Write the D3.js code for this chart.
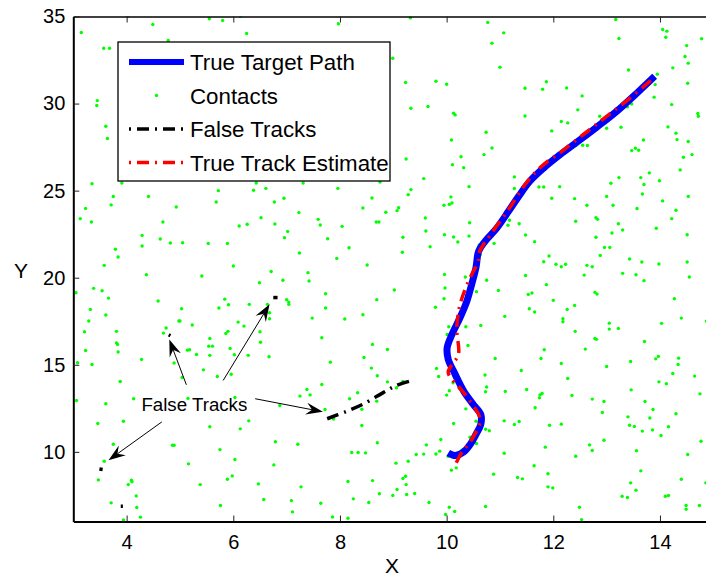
<!DOCTYPE html>
<html>
<head>
<meta charset="utf-8">
<script src="https://cdn.jsdelivr.net/npm/d3@7"></script>
<style>
body { margin: 0; background: #fff; }
text { font-family: Arial, "Liberation Sans", Helvetica, sans-serif; fill: #000; }
</style>
</head>
<body>
<div id="graph"></div>
<script>

// axis limits and ticks
var xDomain = [3, 15];
var yDomain = [6, 35];
var xTicks = [4, 6, 8, 10, 12, 14];
var yTicks = [10, 15, 20, 25, 30, 35];

// legend labels
var legendLabels = ["True Target Path", "Contacts", "False Tracks", "True Track Estimate"];

// contacts (x, y)
var contacts = [
    [4.02,35.02],[4.49,34.54],[5.55,34.87],[5.80,34.77],[6.14,35.02],[7.97,34.58],[3.15,34.08],[6.25,34.02],[3.57,33.18],[3.68,33.18],
    [4.78,33.62],[3.45,30.17],[3.44,29.89],[3.61,28.70],[3.64,27.99],[3.35,25.40],[3.91,25.44],[3.75,24.66],[3.71,24.18],[3.23,23.98],
    [3.13,23.39],[3.34,23.20],[4.41,24.67],[4.93,24.06],[4.68,23.20],[4.29,22.43],[4.29,21.82],[4.63,22.22],[4.82,21.99],[5.05,22.01],
    [3.79,21.63],[3.84,21.19],[3.58,20.71],[5.53,21.97],[5.89,21.97],[5.72,25.00],[5.68,24.35],[6.43,25.44],[6.38,25.02],[6.61,25.13],
    [6.77,24.35],[6.95,24.56],[6.52,23.45],[6.26,23.07],[6.11,22.97],[6.78,23.08],[7.23,23.74],[7.02,22.66],[6.96,22.30],[7.59,23.35],
    [7.63,23.03],[7.31,25.44],[7.96,25.13],[8.04,22.95],[7.77,22.24],[7.24,21.42],[8.17,21.72],[7.94,21.11],[6.00,20.67],[8.51,20.73],
    [8.43,24.00],[8.60,24.58],[8.86,23.76],[8.68,23.20],[8.73,23.20],[8.75,25.50],
    [9.32,34.92],[10.77,34.66],[11.07,34.06],[10.85,33.47],[13.17,34.83],[13.23,33.74],[14.05,34.25],[14.13,34.16],[14.11,33.81],[14.78,33.72],
    [14.50,33.33],[14.47,32.70],[14.53,32.32],[14.24,32.05],[13.41,31.93],[8.99,32.60],[11.00,32.09],[9.23,31.21],[9.80,31.28],[10.00,31.11],
    [11.47,30.88],[11.80,30.82],[11.87,31.25],[12.25,30.90],[12.54,30.44],[12.46,29.64],[9.33,29.73],[9.65,29.83],[10.13,29.44],[10.16,29.35],
    [11.47,29.29],[12.15,28.97],[12.27,28.89],[11.97,28.43],[12.87,29.27],[13.00,28.58],[13.27,28.64],[13.39,29.81],[13.47,29.98],[13.95,31.69],
    [13.91,31.09],[13.89,30.37],[14.22,29.94],[14.52,31.17],[14.71,29.43],[14.72,29.27],[14.15,28.66],[14.30,28.30],[14.32,27.93],[14.53,27.82],
    [14.60,27.07],[14.44,26.92],[14.38,26.19],[13.69,27.91],[13.47,27.30],[13.54,27.43],[13.60,27.32],[13.80,26.02],[13.64,25.75],[13.99,25.57],
    [13.70,25.35],[13.67,24.81],[14.53,24.67],[14.05,24.41],[14.30,23.87],[14.22,23.39],[13.93,22.84],[14.51,22.47],[14.51,20.90],[13.98,20.79],
    [13.66,20.90],[13.43,21.07],[13.23,25.75],[13.08,25.42],[13.00,24.67],[13.12,24.16],[13.57,23.97],[12.80,23.45],[12.83,23.35],[13.22,23.10],
    [13.30,22.74],[13.10,22.57],[12.80,22.32],[12.96,21.74],[13.06,21.74],[12.88,21.28],[12.63,24.16],[12.40,24.54],[12.42,23.24],[12.63,20.71],
    [12.73,20.63],[12.64,27.59],[12.55,27.61],[12.42,27.59],[12.24,27.24],[12.12,25.23],[11.97,24.56],[11.82,25.21],[11.73,25.21],[11.27,25.79],
    [11.27,25.12],[11.18,23.30],[11.15,23.01],[11.36,23.10],[11.12,23.62],[11.48,22.45],[11.65,22.07],[10.89,21.97],[10.63,21.32],[11.92,21.25],
    [11.82,20.92],[12.05,20.77],[12.15,20.63],[12.23,20.77],[10.74,28.35],[10.85,27.45],[10.70,27.07],[10.09,27.91],[10.27,26.95],[10.32,26.32],
    [10.11,26.49],[9.57,25.69],[9.24,26.82],[9.33,25.06],[9.28,24.77],[10.42,25.23],[10.08,24.64],[10.10,24.29],[10.05,24.21],[9.95,24.16],
    [9.10,24.02],[9.07,23.85],[9.60,23.43],[9.61,22.68],[9.96,22.47],[10.13,22.34],[10.21,22.05],[10.43,23.16],[10.42,22.39],[9.69,21.78],
    [9.18,22.32],[9.17,21.46],[11.79,26.27],[10.61,21.88],
    [4.37,20.17],[5.41,20.10],[6.49,19.71],[6.71,20.36],[6.93,19.85],[7.40,20.29],[7.42,19.81],[3.05,19.14],[3.38,19.39],[3.54,19.25],
    [3.66,18.83],[3.32,18.18],[3.29,17.51],[3.61,17.86],[3.21,16.90],[3.81,16.92],[3.81,16.26],[3.83,16.17],[3.23,15.82],[3.84,15.73],
    [3.08,15.12],[3.35,15.02],[3.88,14.04],[4.59,18.66],[5.03,18.22],[4.98,17.51],[5.00,17.51],[5.23,17.28],[4.74,17.11],[4.69,16.82],
    [4.28,15.31],[4.89,15.10],[5.14,15.84],[5.18,15.86],[5.31,15.59],[5.04,14.27],[5.44,14.71],[5.56,16.51],[5.54,16.07],[5.61,16.07],
    [5.56,15.54],[5.73,18.26],[5.84,18.77],[5.91,18.45],[6.09,17.45],[6.20,17.22],[5.90,16.92],[5.86,16.80],[5.94,15.94],[6.02,15.58],
    [6.28,15.54],[6.30,18.47],[6.64,18.47],[6.68,17.99],[6.68,17.64],[6.50,16.90],[6.51,16.29],[6.67,15.46],[5.70,14.33],[5.96,14.46],
    [7.00,18.74],[7.04,18.60],[7.04,18.47],[7.48,17.68],[7.73,19.08],[7.73,18.26],[7.66,16.55],[7.82,15.15],[7.66,13.87],[7.38,13.58],
    [7.44,13.27],[7.25,13.20],[8.09,17.63],[8.43,17.87],[8.69,18.74],[8.61,16.17],[8.89,15.88],[8.45,15.42],[8.59,14.81],[8.70,14.37],
    [8.89,14.02],[8.18,13.05],[8.33,13.39],[8.41,12.45],[8.69,12.91],[7.88,11.88],[7.72,12.43],[8.41,11.51],[8.70,10.52],[8.22,9.96],
    [8.34,9.96],[8.48,9.94],[8.61,8.35],[8.15,8.30],[8.25,7.30],[8.54,7.09],[8.74,7.59],[7.86,6.26],[8.15,6.19],[7.64,7.05],
    [7.11,6.55],[7.09,7.20],[6.57,7.26],[7.27,7.99],[6.76,9.25],[6.79,10.58],[7.21,10.44],[6.87,12.66],[6.29,11.78],[6.13,11.32],
    [5.56,11.44],[6.03,13.12],[5.75,10.13],[6.03,9.56],[5.98,8.62],[5.89,8.43],[6.47,8.16],[5.76,6.92],[5.38,8.12],[5.16,9.31],
    [4.86,10.38],[4.89,10.38],[3.94,11.76],[3.46,11.63],[3.61,12.76],[3.06,12.95],[4.13,13.05],[3.75,10.44],[3.58,9.46],[3.47,8.39],
    [4.03,8.12],[4.09,8.37],[4.10,8.28],[4.18,7.47],[4.19,6.80],[3.71,7.07],[4.26,6.25],[3.94,6.09],[5.15,13.07],
    [9.96,20.19],[10.35,20.04],[10.75,19.85],[11.48,20.13],[12.58,20.15],[13.30,20.25],[13.55,20.17],[13.70,19.83],[14.55,20.04],[9.02,19.29],
    [9.97,19.41],[9.95,18.79],[9.79,18.30],[10.56,19.20],[10.97,19.27],[11.87,19.60],[11.53,19.04],[11.60,19.12],[12.00,18.70],[12.78,19.16],
    [12.82,19.06],[12.40,18.41],[12.26,18.18],[11.55,18.22],[11.65,18.03],[12.18,17.64],[12.18,17.47],[11.09,17.78],[10.64,17.26],[10.36,17.18],
    [10.04,17.18],[10.01,16.74],[10.40,16.11],[12.41,16.92],[13.05,17.39],[13.05,17.05],[13.22,17.09],[14.27,18.79],[14.40,17.68],[14.03,17.38],
    [14.87,17.51],[12.78,16.51],[12.81,16.46],[13.71,16.34],[12.60,15.90],[11.83,15.86],[11.77,15.36],[12.15,15.08],[10.91,15.36],[13.00,14.90],
    [13.45,15.19],[13.92,15.34],[13.97,15.48],[14.35,15.38],[14.34,15.02],[14.24,14.50],[14.65,14.35],[13.98,14.02],[14.12,13.91],[14.75,13.33],
    [12.27,14.21],[11.40,14.67],[11.50,13.58],[11.75,13.27],[11.79,13.35],[11.74,13.10],[12.35,13.24],[12.73,13.03],[12.95,12.89],[12.92,12.26],
    [13.46,13.56],[13.72,12.89],[13.87,12.43],[13.81,11.94],[13.40,12.01],[13.43,11.53],[13.52,11.46],[13.67,11.19],[13.86,11.26],[14.02,10.94],
    [14.16,11.44],[14.30,12.19],[14.77,10.61],[11.66,12.53],[11.10,13.47],[10.72,14.41],[10.75,13.72],[10.73,13.45],[11.08,11.78],[11.27,11.57],
    [11.36,11.74],[11.93,11.53],[12.15,11.59],[12.95,10.67],[12.68,10.40],[12.73,10.08],[11.85,10.27],[12.42,9.75],[13.56,10.06],[14.52,9.85],
    [11.08,9.92],[11.64,9.20],[11.90,8.74],[11.90,7.99],[11.99,7.93],[11.33,8.53],[11.42,8.45],[10.88,8.72],[10.73,6.86],[10.73,11.30],
    [10.80,11.21],[10.56,10.48],[10.44,10.84],[9.89,10.71],[10.13,11.63],[9.62,10.40],[9.87,10.04],[9.80,9.88],[9.57,9.87],[9.43,9.85],
    [9.28,9.46],[9.05,9.35],[9.23,8.60],[9.18,8.47],[9.24,8.12],[9.07,7.84],[8.99,7.49],[9.25,7.55],[9.40,7.61],[9.67,7.09],
    [10.05,6.82],[10.15,6.57],[9.98,6.40],[10.09,8.95],[10.18,9.08],[12.49,6.82],[12.53,6.11],[13.29,7.45],[13.39,7.38],[13.55,7.80],
    [13.45,8.22],[13.64,8.91],[14.10,7.45],[14.16,7.49],[14.40,8.43],[14.49,6.92],[14.49,6.71],[14.74,6.92],[14.86,8.22],[9.81,14.79],
    [9.85,14.33],[9.06,13.68],[9.18,14.04],[10.12,13.97],[10.05,13.51],[10.00,13.26],[10.24,13.64],[10.36,12.47],[10.56,12.66],[10.55,11.76],
    [10.40,10.21],[10.30,10.13],[10.35,9.98],[10.29,17.93],[10.37,19.00],[10.03,9.75]
];

// true target path
var truePath = [
    [10.03,9.94],[10.16,9.79],[10.32,10.00],[10.44,10.42],[10.55,11.00],[10.64,11.57],[10.64,12.15],[10.50,12.72],[10.32,13.49],[10.16,14.45],
    [10.03,15.31],[10.01,15.98],[10.10,16.74],[10.25,17.70],[10.38,18.66],[10.47,19.62],[10.55,20.58],[10.60,21.52],[10.72,22.09],[10.94,22.85],
    [11.16,23.81],[11.35,24.67],[11.56,25.54],[11.82,26.30],[12.13,27.07],[12.44,27.78],[12.82,28.66],[13.19,29.56],[13.57,30.61],[13.90,31.57]
];

// true track estimate
var trackEstimate = [
    [10.18,9.37],[10.28,9.94],[10.47,10.71],[10.63,11.76],[10.60,12.15],[10.32,13.39],[10.03,14.54],[10.08,14.92],[10.22,15.59],[10.19,17.13],
    [10.27,18.66],[10.47,20.19],[10.58,20.84],[10.62,21.52],[10.82,22.47],[11.16,23.91],[11.47,25.35],[11.78,26.40],[12.16,27.26],[12.60,28.31],
    [13.00,29.27],[13.38,30.17],[13.81,31.28],[13.87,31.45]
];

// false tracks
var falseTracks = [
    [[7.76,11.90],[8.10,12.30],[8.44,12.75],[8.81,13.40],[9.05,13.80],[9.36,14.10]],
    [[6.75,18.86],[6.83,18.86]],
    [[4.79,16.72],[4.82,16.67]],
    [[3.49,9.02],[3.55,8.99]],
    [[3.89,6.88],[3.93,6.88]]
];

// annotation
var annotationText = "False Tracks";
var annotationPos = [5.27, 12.7];
var arrowTails = [[5.12,13.85],[5.81,14.10],[6.41,13.05],[4.66,11.72]];
var arrowHeads = [[4.80,16.45],[6.68,18.47],[7.68,12.30],[3.66,9.52]];

// init size
var width = 706;
var height = 577;
var plotLeft = 73.3, plotRight = 713.3, plotTop = 16.5, plotBottom = 521.5;

// init scales
var xScale = d3.scaleLinear().domain(xDomain).range([plotLeft, plotRight]);
var yScale = d3.scaleLinear().domain(yDomain).range([plotBottom, plotTop]);

// init svg
var svg = d3.select("#graph")
    .append("svg")
    .attr("width", width)
    .attr("height", height)
    .style("display", "block");

svg.append("clipPath")
    .attr("id", "plotClip")
    .append("rect")
    .attr("x", plotLeft)
    .attr("y", plotTop)
    .attr("width", plotRight - plotLeft)
    .attr("height", plotBottom - plotTop);

var plot = svg.append("g").attr("clip-path", "url(#plotClip)");

var smoothLine = d3.line()
    .x(d => xScale(d[0]))
    .y(d => yScale(d[1]))
    .curve(d3.curveCatmullRom.alpha(0.5));

// contacts
plot.append("g")
    .selectAll("circle")
    .data(contacts)
    .enter().append("circle")
    .attr("cx", d => xScale(d[0]))
    .attr("cy", d => yScale(d[1]))
    .attr("r", 1.7)
    .attr("fill", "#00ff00");

// false tracks
plot.append("g")
    .selectAll("path")
    .data(falseTracks)
    .enter().append("path")
    .attr("d", d => smoothLine(d))
    .attr("fill", "none")
    .attr("stroke", "#000")
    .attr("stroke-width", 3.5)
    .attr("stroke-dasharray", "12,6,2,6");

// true target path
plot.append("path")
    .attr("d", smoothLine(truePath))
    .attr("fill", "none")
    .attr("stroke", "#0000ff")
    .attr("stroke-width", 7)
    .attr("stroke-linejoin", "round");

// true track estimate
plot.append("path")
    .attr("d", smoothLine(trackEstimate))
    .attr("fill", "none")
    .attr("stroke", "#ff0000")
    .attr("stroke-width", 3.5)
    .attr("stroke-dasharray", "12,6,2,6");

// annotation arrows
var arrows = svg.append("g").attr("class", "arrows");
arrowTails.forEach(function(t, i) {
    drawArrow(arrows, t, arrowHeads[i]);
});

svg.append("text")
    .attr("x", xScale(annotationPos[0]))
    .attr("y", yScale(annotationPos[1]))
    .attr("dy", "0.35em")
    .attr("text-anchor", "middle")
    .style("font-size", "18.7px")
    .text(annotationText);

// axes
var xAxisBottom = d3.axisBottom(xScale).tickValues(xTicks).tickSizeInner(-6).tickSizeOuter(0).tickPadding(13);
var xAxisTop = d3.axisTop(xScale).tickValues(xTicks).tickSizeInner(-6).tickSizeOuter(0).tickFormat("");
var yAxisLeft = d3.axisLeft(yScale).tickValues(yTicks).tickSizeInner(-6).tickSizeOuter(0).tickPadding(8);
var yAxisRight = d3.axisRight(yScale).tickValues(yTicks).tickSizeInner(-6).tickSizeOuter(0).tickFormat("");

styleAxis(svg.append("g").attr("transform", "translate(0," + plotBottom + ")").call(xAxisBottom), 2);
styleAxis(svg.append("g").attr("transform", "translate(0," + plotTop + ")").call(xAxisTop), 1.5);
styleAxis(svg.append("g").attr("transform", "translate(" + plotLeft + ",0)").call(yAxisLeft), 2);
styleAxis(svg.append("g").attr("transform", "translate(" + plotRight + ",0)").call(yAxisRight), 1.5);

// axis labels
svg.append("text")
    .attr("x", 392)
    .attr("y", 573)
    .attr("text-anchor", "middle")
    .style("font-size", "21px")
    .text("X");

svg.append("text")
    .attr("x", 21)
    .attr("y", 278)
    .attr("text-anchor", "middle")
    .style("font-size", "21px")
    .text("Y");

// legend
drawLegend();

function styleAxis(g, domainWidth) {
    g.attr("font-family", null).attr("font-size", null);
    g.select(".domain").attr("stroke", "#000").attr("stroke-width", domainWidth);
    g.selectAll(".tick line").attr("stroke", "#222").attr("stroke-width", 1);
    g.selectAll(".tick text").attr("fill", "#000").style("font-size", "20px");
}

function drawArrow(g, tail, head) {

    var x1 = xScale(tail[0]), y1 = yScale(tail[1]);
    var x2 = xScale(head[0]), y2 = yScale(head[1]);
    var angle = Math.atan2(y2 - y1, x2 - x1);
    var len = 17, half = 6, notch = 6;

    // shaft stops inside the head
    g.append("line")
        .attr("x1", x1)
        .attr("y1", y1)
        .attr("x2", x2 - (len - notch) * Math.cos(angle))
        .attr("y2", y2 - (len - notch) * Math.sin(angle))
        .attr("stroke", "#000")
        .attr("stroke-width", 1);

    var pts = [[0, 0], [-len, -half], [-len + notch, 0], [-len, half]];
    var cos = Math.cos(angle), sin = Math.sin(angle);
    var poly = pts.map(p => [x2 + p[0]*cos - p[1]*sin, y2 + p[0]*sin + p[1]*cos]);

    g.append("polygon")
        .attr("points", poly.map(p => p.join(",")).join(" "))
        .attr("fill", "#000");
}

function drawLegend() {

    var box = {x: 118, y: 42, w: 272, h: 139};
    var rowY = [62, 95.5, 129, 162.5];
    var lineX1 = 129, lineX2 = 184, textX = 190;

    var legend = svg.append("g").attr("class", "legend");

    legend.append("rect")
        .attr("x", box.x)
        .attr("y", box.y)
        .attr("width", box.w)
        .attr("height", box.h)
        .attr("fill", "#fff")
        .attr("stroke", "#000")
        .attr("stroke-width", 1.3);

    legend.append("line")
        .attr("x1", lineX1).attr("x2", lineX2)
        .attr("y1", rowY[0]).attr("y2", rowY[0])
        .attr("stroke", "#0000ff")
        .attr("stroke-width", 6);

    legend.append("circle")
        .attr("cx", (lineX1 + lineX2) / 2)
        .attr("cy", rowY[1])
        .attr("r", 1.7)
        .attr("fill", "#00ff00");

    legend.append("line")
        .attr("x1", lineX1).attr("x2", lineX2)
        .attr("y1", rowY[2]).attr("y2", rowY[2])
        .attr("stroke", "#000")
        .attr("stroke-width", 3.5)
        .attr("stroke-dasharray", "12,6,2,6")
        .attr("stroke-dashoffset", 18);

    legend.append("line")
        .attr("x1", lineX1).attr("x2", lineX2)
        .attr("y1", rowY[3]).attr("y2", rowY[3])
        .attr("stroke", "#ff0000")
        .attr("stroke-width", 3.5)
        .attr("stroke-dasharray", "12,6,2,6")
        .attr("stroke-dashoffset", 18);

    legend.selectAll("text")
        .data(legendLabels)
        .enter().append("text")
        .attr("x", textX)
        .attr("y", (d, i) => rowY[i])
        .attr("dy", "0.36em")
        .style("font-size", "22.3px")
        .text(d => d);
}

</script>
</body>
</html>
